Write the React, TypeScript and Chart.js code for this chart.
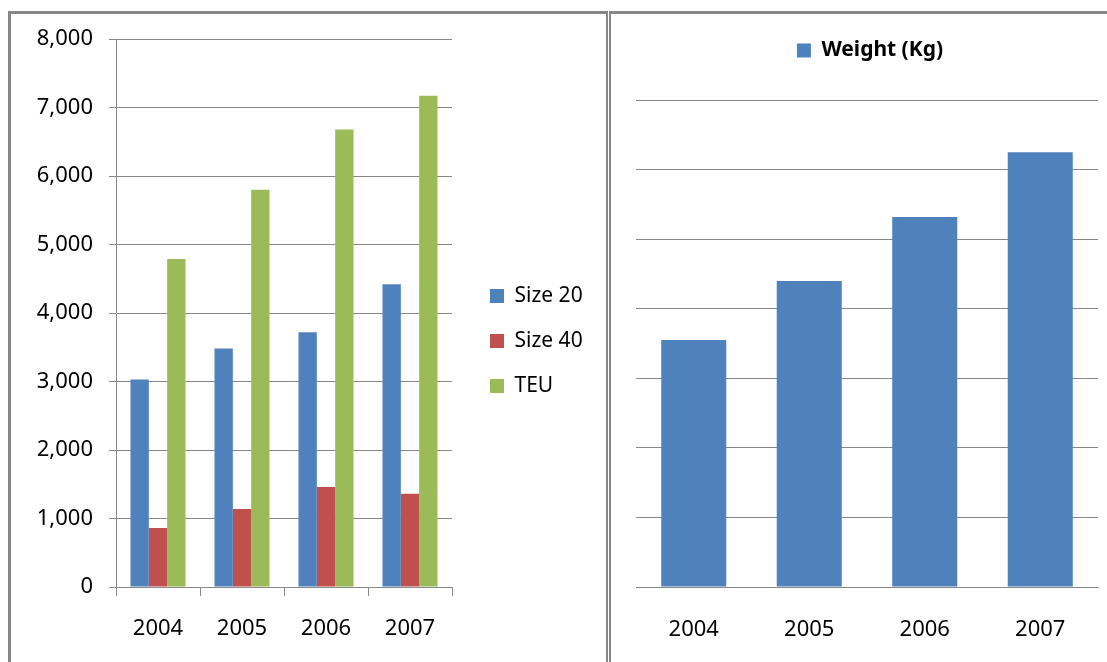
import React, { useEffect, useRef } from 'react';
import { Chart, registerables } from 'chart.js';

Chart.register(...registerables);

// ---- data ----
const categories = ['2004', '2005', '2006', '2007'];
const size20 = [3030, 3480, 3720, 4420];
const size40 = [860, 1140, 1460, 1360];
const teu = [4790, 5800, 6680, 7170];
const weightKg = [3550, 4400, 5320, 6250];
const leftAxis = { min: 0, max: 8000, step: 1000 };
const rightAxis = { min: 0, max: 7000, step: 1000 };

const FONT = "'Noto Sans', 'Open Sans', 'DejaVu Sans', sans-serif";
const GRID = '#888888';

// Legend placement helper: adjusts the built-in legend box size/offset
const legendShift = {
  id: 'legendShift',
  beforeInit(chart: any, _a: any, opts: any) {
    const legend = chart.legend;
    if (!legend) return;
    const fit = legend.fit;
    legend.fit = function () {
      fit.call(this);
      if (opts && opts.width != null) this.width = opts.width;
      if (opts && opts.extraHeight) this.height += opts.extraHeight;
    };
  },
  afterLayout(chart: any, _a: any, opts: any) {
    const l = chart.legend;
    if (!l || !opts) return;
    if (opts.dx) { l.left += opts.dx; l.right += opts.dx; }
    if (opts.dy) { l.top += opts.dy; l.bottom += opts.dy; }
  },
};

function LeftChart() {
  const ref = useRef<HTMLCanvasElement>(null);
  useEffect(() => {
    if (!ref.current) return;
    const chart = new Chart(ref.current, {
      type: 'bar',
      data: {
        labels: categories,
        datasets: [
          { label: 'Size 20', data: size20, backgroundColor: '#4F81BD' },
          { label: 'Size 40', data: size40, backgroundColor: '#C0504D' },
          { label: 'TEU', data: teu, backgroundColor: '#9BBB59' },
        ],
      },
      options: {
        responsive: false,
        animation: false,
        devicePixelRatio: 1,
        layout: { padding: { top: 39, left: 0, right: 0, bottom: 0 } },
        datasets: { bar: { categoryPercentage: 0.655, barPercentage: 1 } },
        plugins: {
          legend: {
            position: 'right',
            align: 'center',
            labels: {
              boxWidth: 14,
              boxHeight: 14,
              padding: 24,
              color: '#000',
              font: { family: FONT, size: 21 },
            },
          },
          tooltip: { enabled: false },
          legendShift: { width: 154, dx: 14, dy: -9.5 },
        } as any,
        scales: {
          x: {
            grid: { drawOnChartArea: false, drawTicks: true, tickLength: 9, color: GRID, offset: true },
            border: { display: true, color: GRID },
            ticks: { color: '#000', font: { family: FONT, size: 22 }, padding: 20, maxRotation: 0, autoSkip: false },
            afterFit: (s: any) => { s.height = 75; },
          },
          y: {
            min: leftAxis.min,
            max: leftAxis.max,
            ticks: {
              stepSize: leftAxis.step,
              padding: 16,
              color: '#000',
              font: { family: FONT, size: 22 },
              callback: (v: any) => Number(v).toLocaleString('en-US'),
            },
            grid: { color: GRID, tickLength: 7 },
            border: { display: true, color: GRID },
            afterFit: (s: any) => { s.width = 116; },
          },
        },
      },
      plugins: [legendShift as any],
    });
    return () => chart.destroy();
  }, []);
  return (
    <canvas
      ref={ref}
      width={606}
      height={662}
      style={{ position: 'absolute', left: 0, top: 0, width: 606, height: 662 }}
    />
  );
}

function RightChart() {
  const ref = useRef<HTMLCanvasElement>(null);
  useEffect(() => {
    if (!ref.current) return;
    const chart = new Chart(ref.current, {
      type: 'bar',
      data: {
        labels: categories,
        datasets: [{ label: 'Weight (Kg)', data: weightKg, backgroundColor: '#4F81BD' }],
      },
      options: {
        responsive: false,
        animation: false,
        devicePixelRatio: 1,
        layout: { padding: { top: 30, left: 25, right: 9, bottom: 0 } },
        datasets: { bar: { categoryPercentage: 0.563, barPercentage: 1 } },
        plugins: {
          legend: {
            position: 'top',
            align: 'center',
            fullSize: false,
            labels: {
              boxWidth: 14,
              boxHeight: 14,
              padding: 10,
              color: '#000',
              font: { family: FONT, size: 21, weight: 'bold' },
            },
          },
          tooltip: { enabled: false },
          legendShift: { extraHeight: 29, dx: 3 },
        } as any,
        scales: {
          x: {
            grid: { display: false },
            border: { display: true, color: GRID },
            ticks: { color: '#000', font: { family: FONT, size: 22 }, padding: 22, maxRotation: 0, autoSkip: false },
            afterFit: (s: any) => { s.height = 75; },
          },
          y: {
            min: rightAxis.min,
            max: rightAxis.max,
            ticks: { stepSize: rightAxis.step, display: false },
            grid: { color: GRID, drawTicks: false },
            border: { display: false },
            afterFit: (s: any) => { s.width = 0; },
          },
        },
      },
      plugins: [legendShift as any],
    });
    return () => chart.destroy();
  }, []);
  return (
    <canvas
      ref={ref}
      width={496}
      height={662}
      style={{ position: 'absolute', left: 611, top: 0, width: 496, height: 662 }}
    />
  );
}

export default function App() {
  return (
    <div
      style={{
        position: 'absolute',
        left: 0,
        top: 0,
        width: 1107,
        height: 662,
        overflow: 'hidden',
        background: '#fff',
      }}
    >
      <div
        style={{
          position: 'absolute',
          left: 8,
          top: 11,
          width: 600,
          height: 700,
          boxSizing: 'border-box',
          borderLeft: `3px solid ${GRID}`,
          borderTop: `3px solid ${GRID}`,
          borderRight: `2px solid ${GRID}`,
        }}
      />
      <div
        style={{
          position: 'absolute',
          left: 609,
          top: 11,
          width: 600,
          height: 700,
          boxSizing: 'border-box',
          borderLeft: `2px solid ${GRID}`,
          borderTop: `3px solid ${GRID}`,
        }}
      />
      <LeftChart />
      <RightChart />
    </div>
  );
}
